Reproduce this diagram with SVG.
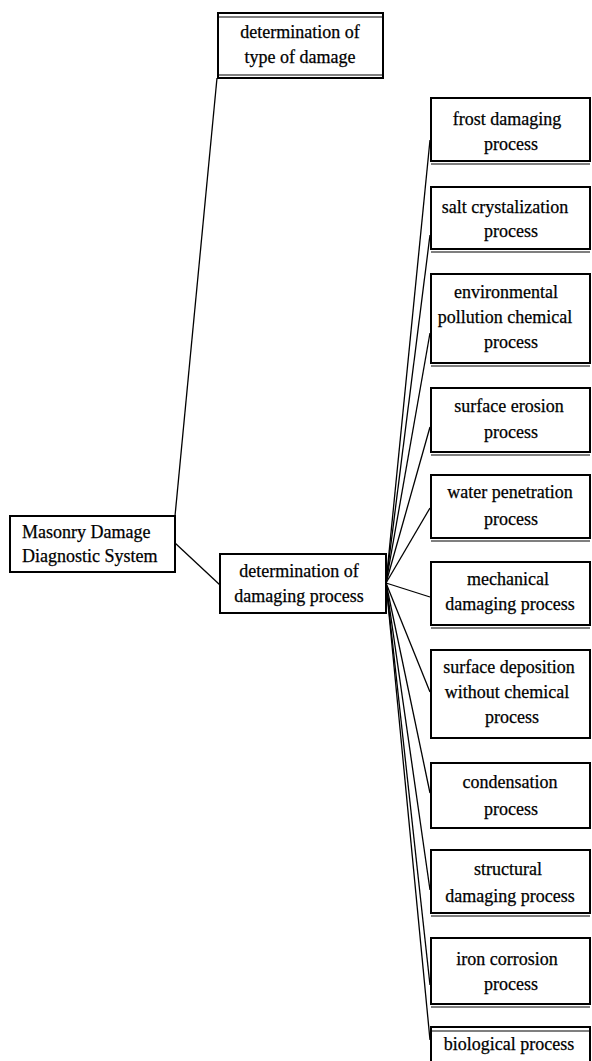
<svg xmlns="http://www.w3.org/2000/svg" width="592" height="1061" viewBox="0 0 592 1061">
<style>
.box{fill:#fff;stroke:#000;stroke-width:2}
.sh{stroke:#000;stroke-width:1.2;fill:none}
.t{font-family:"Liberation Serif","Times New Roman",serif;font-size:18px;fill:#000;stroke:#000;stroke-width:0.25;text-anchor:middle}
.tl{font-family:"Liberation Serif","Times New Roman",serif;font-size:18px;fill:#000;stroke:#000;stroke-width:0.25}
.c{stroke:#000;stroke-width:1.3;fill:none}
</style>
<rect width="592" height="1061" fill="#fff"/>
<g id="connectors">
<line class="c" x1="217" y1="78" x2="175" y2="516"/>
<line class="c" x1="175" y1="543" x2="220" y2="585"/>
<line class="c" x1="386" y1="583" x2="430" y2="140"/>
<line class="c" x1="386" y1="583" x2="430" y2="235"/>
<line class="c" x1="386" y1="583" x2="430" y2="333"/>
<line class="c" x1="386" y1="583" x2="430" y2="427"/>
<line class="c" x1="386" y1="583" x2="430" y2="508"/>
<line class="c" x1="386" y1="583" x2="430" y2="597"/>
<line class="c" x1="386" y1="583" x2="430" y2="692"/>
<line class="c" x1="386" y1="583" x2="430" y2="793"/>
<line class="c" x1="386" y1="583" x2="430" y2="890"/>
<line class="c" x1="386" y1="583" x2="430" y2="985"/>
<line class="c" x1="386" y1="583" x2="430" y2="1040"/>
</g>
<g id="n-type">
<rect class="box" x="218" y="13" width="165" height="65"/>
<line class="sh" x1="218" y1="17" x2="383" y2="17"/>
<line class="sh" x1="218" y1="75" x2="383" y2="75"/>
<text class="t" x="300" y="38">determination of</text>
<text class="t" x="300" y="63">type of damage</text>
</g>
<g id="n-root">
<rect class="box" x="10" y="516" width="165" height="56"/>
<text class="tl" x="22" y="538">Masonry Damage</text>
<text class="tl" x="22" y="562">Diagnostic System</text>
</g>
<g id="n-process">
<rect class="box" x="220" y="554" width="166" height="59"/>
<text class="t" x="299" y="577">determination of</text>
<text class="t" x="299" y="602">damaging process</text>
</g>
<g id="n-frost">
<rect class="box" x="431" y="98" width="159" height="63"/>
<line class="sh" x1="431" y1="164" x2="590" y2="164"/>
<text class="t" x="507" y="125">frost damaging</text>
<text class="t" x="511" y="150">process</text>
</g>
<g id="n-salt">
<rect class="box" x="431" y="187" width="159" height="62"/>
<line class="sh" x1="431" y1="252" x2="590" y2="252"/>
<text class="t" x="505" y="213">salt crystalization</text>
<text class="t" x="511" y="237">process</text>
</g>
<g id="n-env">
<rect class="box" x="431" y="274" width="159" height="89"/>
<line class="sh" x1="431" y1="366" x2="590" y2="366"/>
<text class="t" x="506" y="298">environmental</text>
<text class="t" x="505" y="323">pollution chemical</text>
<text class="t" x="511" y="348">process</text>
</g>
<g id="n-erosion">
<rect class="box" x="431" y="388" width="159" height="64"/>
<line class="sh" x1="431" y1="455" x2="590" y2="455"/>
<text class="t" x="509" y="412">surface erosion</text>
<text class="t" x="511" y="438">process</text>
</g>
<g id="n-water">
<rect class="box" x="431" y="475" width="159" height="63"/>
<line class="sh" x1="431" y1="541" x2="590" y2="541"/>
<text class="t" x="510" y="498">water penetration</text>
<text class="t" x="511" y="525">process</text>
</g>
<g id="n-mech">
<rect class="box" x="431" y="562" width="159" height="63"/>
<line class="sh" x1="431" y1="628" x2="590" y2="628"/>
<text class="t" x="508" y="585">mechanical</text>
<text class="t" x="510" y="610">damaging process</text>
</g>
<g id="n-depos">
<rect class="box" x="431" y="650" width="159" height="88"/>
<text class="t" x="509" y="673">surface deposition</text>
<text class="t" x="507" y="698">without chemical</text>
<text class="t" x="512" y="723">process</text>
</g>
<g id="n-cond">
<rect class="box" x="431" y="763" width="159" height="65"/>
<text class="t" x="510" y="788">condensation</text>
<text class="t" x="511" y="815">process</text>
</g>
<g id="n-struct">
<rect class="box" x="431" y="850" width="159" height="63"/>
<line class="sh" x1="431" y1="916" x2="590" y2="916"/>
<text class="t" x="508" y="875">structural</text>
<text class="t" x="510" y="902">damaging process</text>
</g>
<g id="n-iron">
<rect class="box" x="431" y="938" width="159" height="66"/>
<line class="sh" x1="431" y1="1007" x2="590" y2="1007"/>
<text class="t" x="507" y="965">iron corrosion</text>
<text class="t" x="511" y="990">process</text>
</g>
<g id="n-bio">
<rect class="box" x="431" y="1027" width="159" height="40"/>
<line class="sh" x1="431" y1="1031" x2="590" y2="1031"/>
<text class="t" x="509" y="1050">biological process</text>
</g>
</svg>
